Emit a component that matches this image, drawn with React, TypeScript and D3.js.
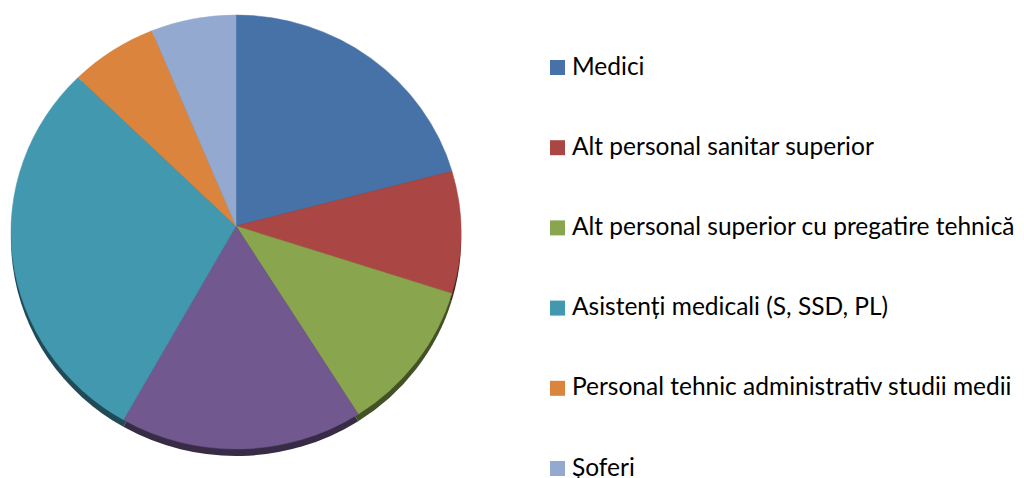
import React from "react";
import * as d3 from "d3";

// Slice data (clockwise from 12 o'clock)
const sliceLabels = [
  "Medici",
  "Alt personal sanitar superior",
  "Alt personal superior cu pregatire tehnică",
  "",
  "Asistenți medicali (S, SSD, PL)",
  "Personal tehnic administrativ studii medii",
  "Șoferi",
];
const sliceValues = [20.5, 9.1, 11.3, 17.5, 29.3, 6.3, 6.1];
const sliceColors = ["#4672A8", "#AA4643", "#89A54E", "#71588F", "#4198AF", "#DB843D", "#93A9CF"];

const W = 1024;
const H = 478;
const cx = 236;
const cy = 232;
const rx = 225;
const ry = 217;
const apexX = 236;
const apexY = 226;
const depth = 7;

function wedgePath(a0: number, a1: number, dy: number) {
  const px = (t: number) => cx + rx * Math.sin(t);
  const py = (t: number) => cy + dy - ry * Math.cos(t);
  const large = a1 - a0 > Math.PI ? 1 : 0;
  return `M${apexX},${apexY + dy}L${px(a0)},${py(a0)}A${rx},${ry} 0 ${large} 1 ${px(a1)},${py(a1)}Z`;
}

export default function App() {
  const pie = d3
    .pie<number>()
    .sort(null)
    .value((d) => d)
    .startAngle(0)
    .endAngle(2 * Math.PI);
  const arcs = pie(sliceValues);

  const legendItems = sliceLabels
    .map((label, i) => ({ label, color: sliceColors[i] }))
    .filter((d) => d.label !== "");

  const legendY = d3.scaleLinear().domain([0, legendItems.length - 1]).range([60, 461]);

  return (
    <svg
      width={W}
      height={H}
      style={{ position: "absolute", left: 0, top: 0, background: "#fff" }}
      fontFamily="Lato, 'Open Sans', sans-serif"
    >
      <g>
        {arcs.map((a, i) => (
          <path
            key={"side" + i}
            d={wedgePath(a.startAngle, a.endAngle, depth)}
            fill={d3.color(sliceColors[i])!.darker(2).formatHex()}
          />
        ))}
        {arcs.map((a, i) => (
          <path
            key={"top" + i}
            d={wedgePath(a.startAngle, a.endAngle, 0)}
            fill={sliceColors[i]}
            stroke={sliceColors[i]}
            strokeWidth={0.5}
          />
        ))}
      </g>
      <g>
        {legendItems.map((d, i) => (
          <g key={d.label} transform={`translate(550,${legendY(i)})`}>
            <rect x={0} y={0} width={15} height={15} fill={d.color} />
            <text x={22} y={14.5} fontSize={24.5} fill="#000">
              {d.label}
            </text>
          </g>
        ))}
      </g>
    </svg>
  );
}
